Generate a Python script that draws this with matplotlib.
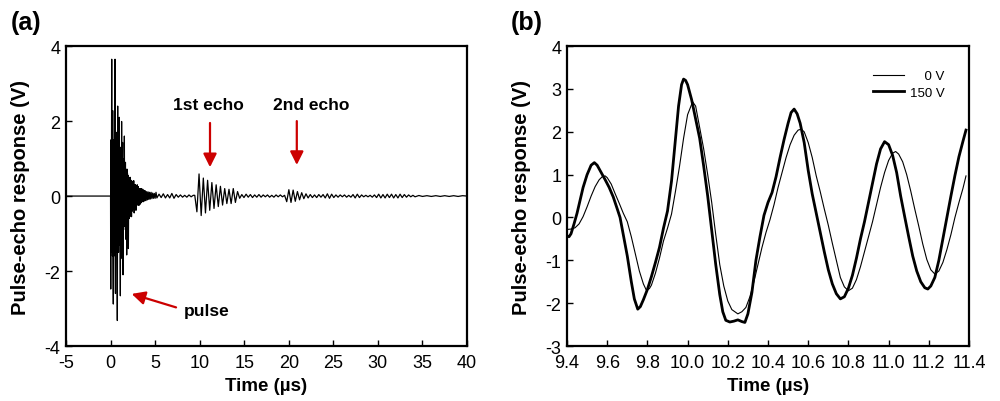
import matplotlib
matplotlib.use("Agg")
import matplotlib.pyplot as plt
from matplotlib.lines import Line2D

plt.rcParams['font.family'] = ['Liberation Sans', 'DejaVu Sans']
plt.rcParams['axes.unicode_minus'] = False

# ---------------- panel (a) data: full pulse-echo trace ----------------
pulse_t = [-5.0, 0.00, 0.02, 0.05, 0.08, 0.11, 0.13, 0.16, 0.19, 0.22, 0.24, 0.27, 0.31, 0.34,
           0.37, 0.40, 0.43, 0.46, 0.50, 0.53, 0.55, 0.58, 0.61, 0.64, 0.67, 0.69, 0.72, 0.76,
           0.80, 0.83, 0.86, 0.89, 0.92, 0.95, 0.98, 1.01, 1.04, 1.07, 1.10, 1.13, 1.16, 1.19,
           1.22, 1.24, 1.27, 1.30, 1.33, 1.35, 1.38, 1.40, 1.43, 1.46, 1.50, 1.53, 1.55, 1.58,
           1.61, 1.64, 1.67, 1.70, 1.73, 1.76, 1.79, 1.81, 1.84, 1.87, 1.90, 1.93, 1.96, 2.00,
           2.04, 2.08, 2.12, 2.16, 2.20, 2.25, 2.30, 2.35, 2.40, 2.45, 2.50, 2.55, 2.60, 2.65,
           2.70, 2.75, 2.80, 2.85, 2.90, 2.95, 3.00, 3.06, 3.12, 3.18, 3.24, 3.30, 3.36, 3.42,
           3.48, 3.55, 3.62, 3.69, 3.76, 3.83, 3.90, 3.98, 4.06, 4.14, 4.22, 4.30, 4.38, 4.46,
           4.55, 4.64, 4.73, 4.82, 4.91, 5.00, 5.10, 5.20]
pulse_v = [0.0, 0.0, -2.48, 1.5, -1.4, 1.6, 3.65, -1.5, 1.4, -1.6, 2.28, -1.3, -2.88, 1.5,
           -1.6, 1.3, -1.5, 1.4, 3.65, -1.6, -2.6, 1.5, -1.4, 1.3, -1.5, 1.7, -1.3, -3.32,
           2.4, -1.4, 1.3, -1.5, 1.4, -1.2, 2.1, -1.3, 1.2, -1.2, -2.66, 1.3, -1.1, 1.1,
           -1.0, 1.99, -1.0, -1.67, 1.0, 1.43, -1.1, -2.1, 0.9, -0.9, 1.0, -0.8, 1.6, -0.8,
           0.8, -0.8, 0.9, -1.15, 0.7, -0.7, 0.6, -1.57, 0.72, -0.6, 0.6, -0.7, 0.55, -1.4,
           0.5, -0.6, 0.45, -0.55, 0.5, -0.45, 0.42, -0.55, 0.4, -0.4, 0.35, -0.35, 0.41, -0.45,
           0.3, -0.3, 0.3, -0.38, 0.28, -0.25, 0.3, -0.22, 0.25, -0.25, 0.2, -0.22, 0.2, -0.18,
           0.2, -0.15, 0.18, -0.15, 0.15, -0.13, 0.14, -0.12, 0.12, -0.1, 0.11, -0.09, 0.1, -0.08,
           0.1, -0.07, 0.08, -0.06, 0.07, -0.06, 0.1, -0.05]

noise1_t = [5.44, 5.68, 5.92, 6.16, 6.40, 6.64, 6.88, 7.12, 7.36, 7.60, 7.84, 8.08, 8.32,
            8.56, 8.80, 9.04, 9.28]
noise1_v = [0.05, -0.04, 0.06, -0.05, 0.04, -0.05, 0.07, -0.06, 0.04, -0.03, 0.03, -0.03,
            0.02, -0.03, 0.03, -0.02, 0.02]

echo1_t = [9.45, 9.69, 9.93, 10.17, 10.41, 10.65, 10.89, 11.13, 11.37, 11.61, 11.85, 12.09,
           12.33, 12.57, 12.81, 13.05, 13.29, 13.53, 13.77, 14.01, 14.25, 14.49, 14.73]
echo1_v = [0.02, -0.42, 0.59, -0.52, 0.48, -0.45, 0.42, -0.38, 0.36, -0.33, 0.30, -0.28,
           0.26, -0.24, 0.20, -0.20, 0.18, -0.20, 0.20, -0.17, 0.12, -0.06, 0.04]

noise2_t = [14.97, 15.21, 15.45, 15.69, 15.93, 16.17, 16.41, 16.65, 16.89, 17.13, 17.37,
            17.61, 17.85, 18.09, 18.33, 18.57, 18.81, 19.05, 19.29, 19.53]
noise2_v = [-0.04, 0.05, -0.03, 0.04, -0.04, 0.03, -0.03, 0.04, -0.03, 0.03, -0.02, 0.03,
            -0.03, 0.02, -0.03, 0.03, -0.02, 0.03, -0.02, 0.02]

echo2_t = [19.77, 20.01, 20.25, 20.49, 20.73, 20.97, 21.21, 21.45, 21.69, 21.93, 22.17]
echo2_v = [-0.15, 0.17, -0.17, 0.16, -0.14, 0.12, -0.10, 0.09, -0.07, 0.06, -0.05]

noise3_t = [22.41, 22.65, 22.89, 23.13, 23.37, 23.61, 23.85, 24.09, 24.33, 24.57, 24.81,
            25.05, 25.29, 25.53, 25.77, 26.01, 26.25, 26.49, 26.73, 26.97, 27.21, 27.45,
            27.69, 27.93, 28.17, 28.41, 28.65, 28.89, 29.13, 29.37, 29.61, 29.85, 30.09,
            30.33, 30.57, 30.81, 31.05, 31.29, 31.53, 31.77, 32.01, 32.25, 32.49, 32.73,
            32.97, 33.21, 33.45, 33.69, 33.93]
noise3_v = [0.04, -0.04, 0.03, -0.04, 0.04, -0.03, 0.04, -0.05, 0.06, -0.06,
            0.05, -0.04, 0.03, -0.03, 0.03, -0.02, 0.03, -0.03, 0.02, -0.03,
            0.04, -0.05, 0.05, -0.04, 0.03, -0.02, 0.02, -0.02, 0.02, -0.03,
            0.03, -0.04, 0.05, -0.05, 0.04, -0.05, 0.05, -0.04, 0.05, -0.05,
            0.04, -0.05, 0.05, -0.04, 0.04, -0.03, 0.03, -0.02, 0.02]

tail_t = [34.17, 34.6, 35.0, 35.5, 36.0, 36.5, 37.0, 37.5, 38.0, 38.5, 39.0, 39.5, 40.0]
tail_v = [-0.02, 0.015, -0.01, 0.01, -0.01, 0.01, -0.01, 0.01, -0.01, 0.01, -0.01, 0.01, 0.0]

# ---------------- panel (b) data: zoom on the 1st echo ----------------
t_150 = [9.400, 9.410, 9.420, 9.435, 9.450, 9.465, 9.480, 9.500, 9.520, 9.536, 9.550, 9.570,
         9.590, 9.610, 9.630, 9.650, 9.664, 9.680, 9.700, 9.720, 9.735, 9.752, 9.765, 9.780,
         9.800, 9.820, 9.840, 9.860, 9.880, 9.900, 9.920, 9.940, 9.955, 9.970, 9.980, 9.990,
         10.000, 10.020, 10.040, 10.060, 10.080, 10.100, 10.120, 10.140, 10.160, 10.175,
         10.190, 10.210, 10.230, 10.250, 10.270, 10.285, 10.300, 10.320, 10.340, 10.360,
         10.380, 10.400, 10.420, 10.440, 10.460, 10.480, 10.500, 10.515, 10.530, 10.545,
         10.560, 10.580, 10.600, 10.620, 10.640, 10.660, 10.680, 10.700, 10.720, 10.740,
         10.760, 10.780, 10.800, 10.820, 10.840, 10.860, 10.880, 10.900, 10.920, 10.940,
         10.960, 10.980, 11.000, 11.020, 11.040, 11.060, 11.080, 11.100, 11.120, 11.140,
         11.160, 11.180, 11.195, 11.210, 11.230, 11.250, 11.270, 11.290, 11.310, 11.330,
         11.350, 11.370, 11.385]
v_150 = [-0.43, -0.45, -0.38, -0.15, 0.10, 0.40, 0.70, 1.00, 1.22, 1.28, 1.22, 1.05,
         0.88, 0.70, 0.48, 0.20, 0.00, -0.40, -0.90, -1.50, -1.90, -2.14, -2.08, -1.92,
         -1.68, -1.38, -1.05, -0.70, -0.25, 0.15, 0.85, 1.85, 2.60, 3.10, 3.23, 3.20,
         3.10, 2.75, 2.30, 1.85, 1.20, 0.50, -0.30, -1.10, -1.80, -2.20,
         -2.40, -2.44, -2.42, -2.39, -2.43, -2.45, -2.25, -1.75, -1.00, -0.45,
         0.05, 0.35, 0.58, 0.95, 1.40, 1.82, 2.20, 2.45, 2.53, 2.42,
         2.20, 1.75, 1.10, 0.55, 0.10, -0.35, -0.80, -1.22, -1.55, -1.78,
         -1.90, -1.85, -1.65, -1.35, -0.95, -0.50, -0.10, 0.35, 0.80, 1.25,
         1.60, 1.77, 1.70, 1.45, 1.05, 0.50, 0.02, -0.45, -0.90, -1.25,
         -1.50, -1.64, -1.67, -1.60, -1.40, -1.00, -0.50, 0.00, 0.50, 0.98,
         1.42, 1.78, 2.04]

t_0 = [9.40, 9.42, 9.44, 9.46, 9.48, 9.50, 9.52, 9.54, 9.56, 9.575, 9.59, 9.60, 9.62, 9.64,
       9.66, 9.68, 9.70, 9.72, 9.74, 9.76, 9.78, 9.795, 9.81, 9.82, 9.84, 9.86, 9.88, 9.90,
       9.92, 9.94, 9.96, 9.98, 10.00, 10.025, 10.04, 10.06, 10.08, 10.10, 10.12, 10.14,
       10.16, 10.18, 10.20, 10.22, 10.25, 10.27, 10.29, 10.31, 10.33, 10.35, 10.37, 10.39,
       10.41, 10.43, 10.45, 10.47, 10.49, 10.51, 10.53, 10.55, 10.565, 10.58, 10.60, 10.62,
       10.64, 10.66, 10.68, 10.70, 10.72, 10.74, 10.76, 10.78, 10.80, 10.82, 10.84, 10.86,
       10.88, 10.90, 10.92, 10.94, 10.96, 10.98, 11.00, 11.02, 11.035, 11.05, 11.07, 11.09,
       11.11, 11.13, 11.15, 11.17, 11.19, 11.21, 11.23, 11.25, 11.27, 11.29, 11.31, 11.33,
       11.35, 11.37, 11.385]
v_0 = [-0.28, -0.27, -0.24, -0.15, 0.02, 0.25, 0.50, 0.72, 0.88, 0.95, 0.97, 0.93, 0.78, 0.55,
       0.33, 0.10, -0.10, -0.45, -0.85, -1.25, -1.55, -1.70, -1.66, -1.58, -1.30, -0.95, -0.55, -0.25,
       0.08, 0.62, 1.20, 1.85, 2.40, 2.70, 2.60, 2.10, 1.60, 1.00, 0.35, -0.40,
       -1.10, -1.60, -1.95, -2.15, -2.25, -2.20, -2.10, -1.85, -1.50, -1.10, -0.70, -0.35,
       -0.05, 0.30, 0.70, 1.05, 1.40, 1.70, 1.92, 2.04, 2.06, 2.00, 1.75, 1.40,
       0.97, 0.60, 0.20, -0.18, -0.60, -1.00, -1.40, -1.62, -1.71, -1.65, -1.45, -1.15,
       -0.80, -0.45, -0.10, 0.30, 0.70, 1.05, 1.33, 1.50, 1.54, 1.48, 1.30, 1.00,
       0.62, 0.20, -0.20, -0.62, -0.98, -1.22, -1.32, -1.25, -1.05, -0.75, -0.40, 0.00,
       0.35, 0.68, 0.97]

a_xticks = [-5, 0, 5, 10, 15, 20, 25, 30, 35, 40]
a_yticks = [-4, -2, 0, 2, 4]
b_xticks = [9.4, 9.6, 9.8, 10.0, 10.2, 10.4, 10.6, 10.8, 11.0, 11.2, 11.4]
b_yticks = [-3, -2, -1, 0, 1, 2, 3, 4]
legend_labels = ["    0 V", "150 V"]

trace_t = pulse_t + noise1_t + echo1_t + noise2_t + echo2_t + noise3_t + tail_t
trace_v = pulse_v + noise1_v + echo1_v + noise2_v + echo2_v + noise3_v + tail_v

RED = "#cc0000"

fig = plt.figure(figsize=(10, 4.02), dpi=100)
axa = fig.add_axes([0.066, 0.1368, 0.401, 0.746])
axb = fig.add_axes([0.567, 0.1368, 0.402, 0.746])

# ----- panel (a)
axa.plot(trace_t, trace_v, color="black", lw=0.9)
axa.set_xlim(-5, 40)
axa.set_ylim(-4, 4)
axa.set_xticks(a_xticks)
axa.set_yticks(a_yticks)

arrow = dict(arrowstyle="-|>,head_width=0.4,head_length=0.8", color=RED, lw=1.6,
             shrinkA=0, shrinkB=0)
axa.annotate("", xy=(11.16, 0.77), xytext=(11.16, 1.95), arrowprops=arrow)
axa.annotate("", xy=(20.9, 0.83), xytext=(20.9, 2.0), arrowprops=arrow)
axa.annotate("", xy=(2.37, -2.61), xytext=(7.35, -2.97), arrowprops=arrow)
axa.text(10.97, 2.45, "1st echo", ha="center", va="center", fontsize=12.5, fontweight="bold")
axa.text(22.57, 2.45, "2nd echo", ha="center", va="center", fontsize=12.5, fontweight="bold")
axa.text(10.79, -3.06, "pulse", ha="center", va="center", fontsize=12.5, fontweight="bold")

# ----- panel (b)
axb.plot(t_0, v_0, color="black", lw=0.8)
axb.plot(t_150, v_150, color="black", lw=2.0)
axb.set_xlim(9.4, 11.4)
axb.set_ylim(-3, 4)
axb.set_xticks(b_xticks)
axb.set_xticklabels([f"{x:.1f}" for x in b_xticks])
axb.set_yticks(b_yticks)
handles = [Line2D([], [], color="black", lw=0.8), Line2D([], [], color="black", lw=2.0)]
axb.legend(handles, legend_labels, loc="upper right", frameon=False, fontsize=9.5,
           handlelength=2.35, handletextpad=0.5, labelspacing=0.35,
           bbox_to_anchor=(0.97, 0.96))

for ax in (axa, axb):
    for s in ax.spines.values():
        s.set_linewidth(1.6)
    ax.tick_params(direction="in", length=4, width=1, labelsize=13, top=False, right=False,
                   pad=4)
    ax.tick_params(axis="x", pad=6)
    ax.set_xlabel("Time (µs)", fontsize=13.5, fontweight="bold")
    ax.set_ylabel("Pulse-echo response (V)", fontsize=14.5, fontweight="bold")
    ax.xaxis.set_label_coords(0.5, -0.103)
    ax.yaxis.set_label_coords(-0.09, 0.5)

fig.text(0.011, 0.943, "(a)", fontsize=18, fontweight="bold", ha="left", va="center")
fig.text(0.511, 0.943, "(b)", fontsize=18, fontweight="bold", ha="left", va="center")

fig.savefig("out.png", dpi=100)
